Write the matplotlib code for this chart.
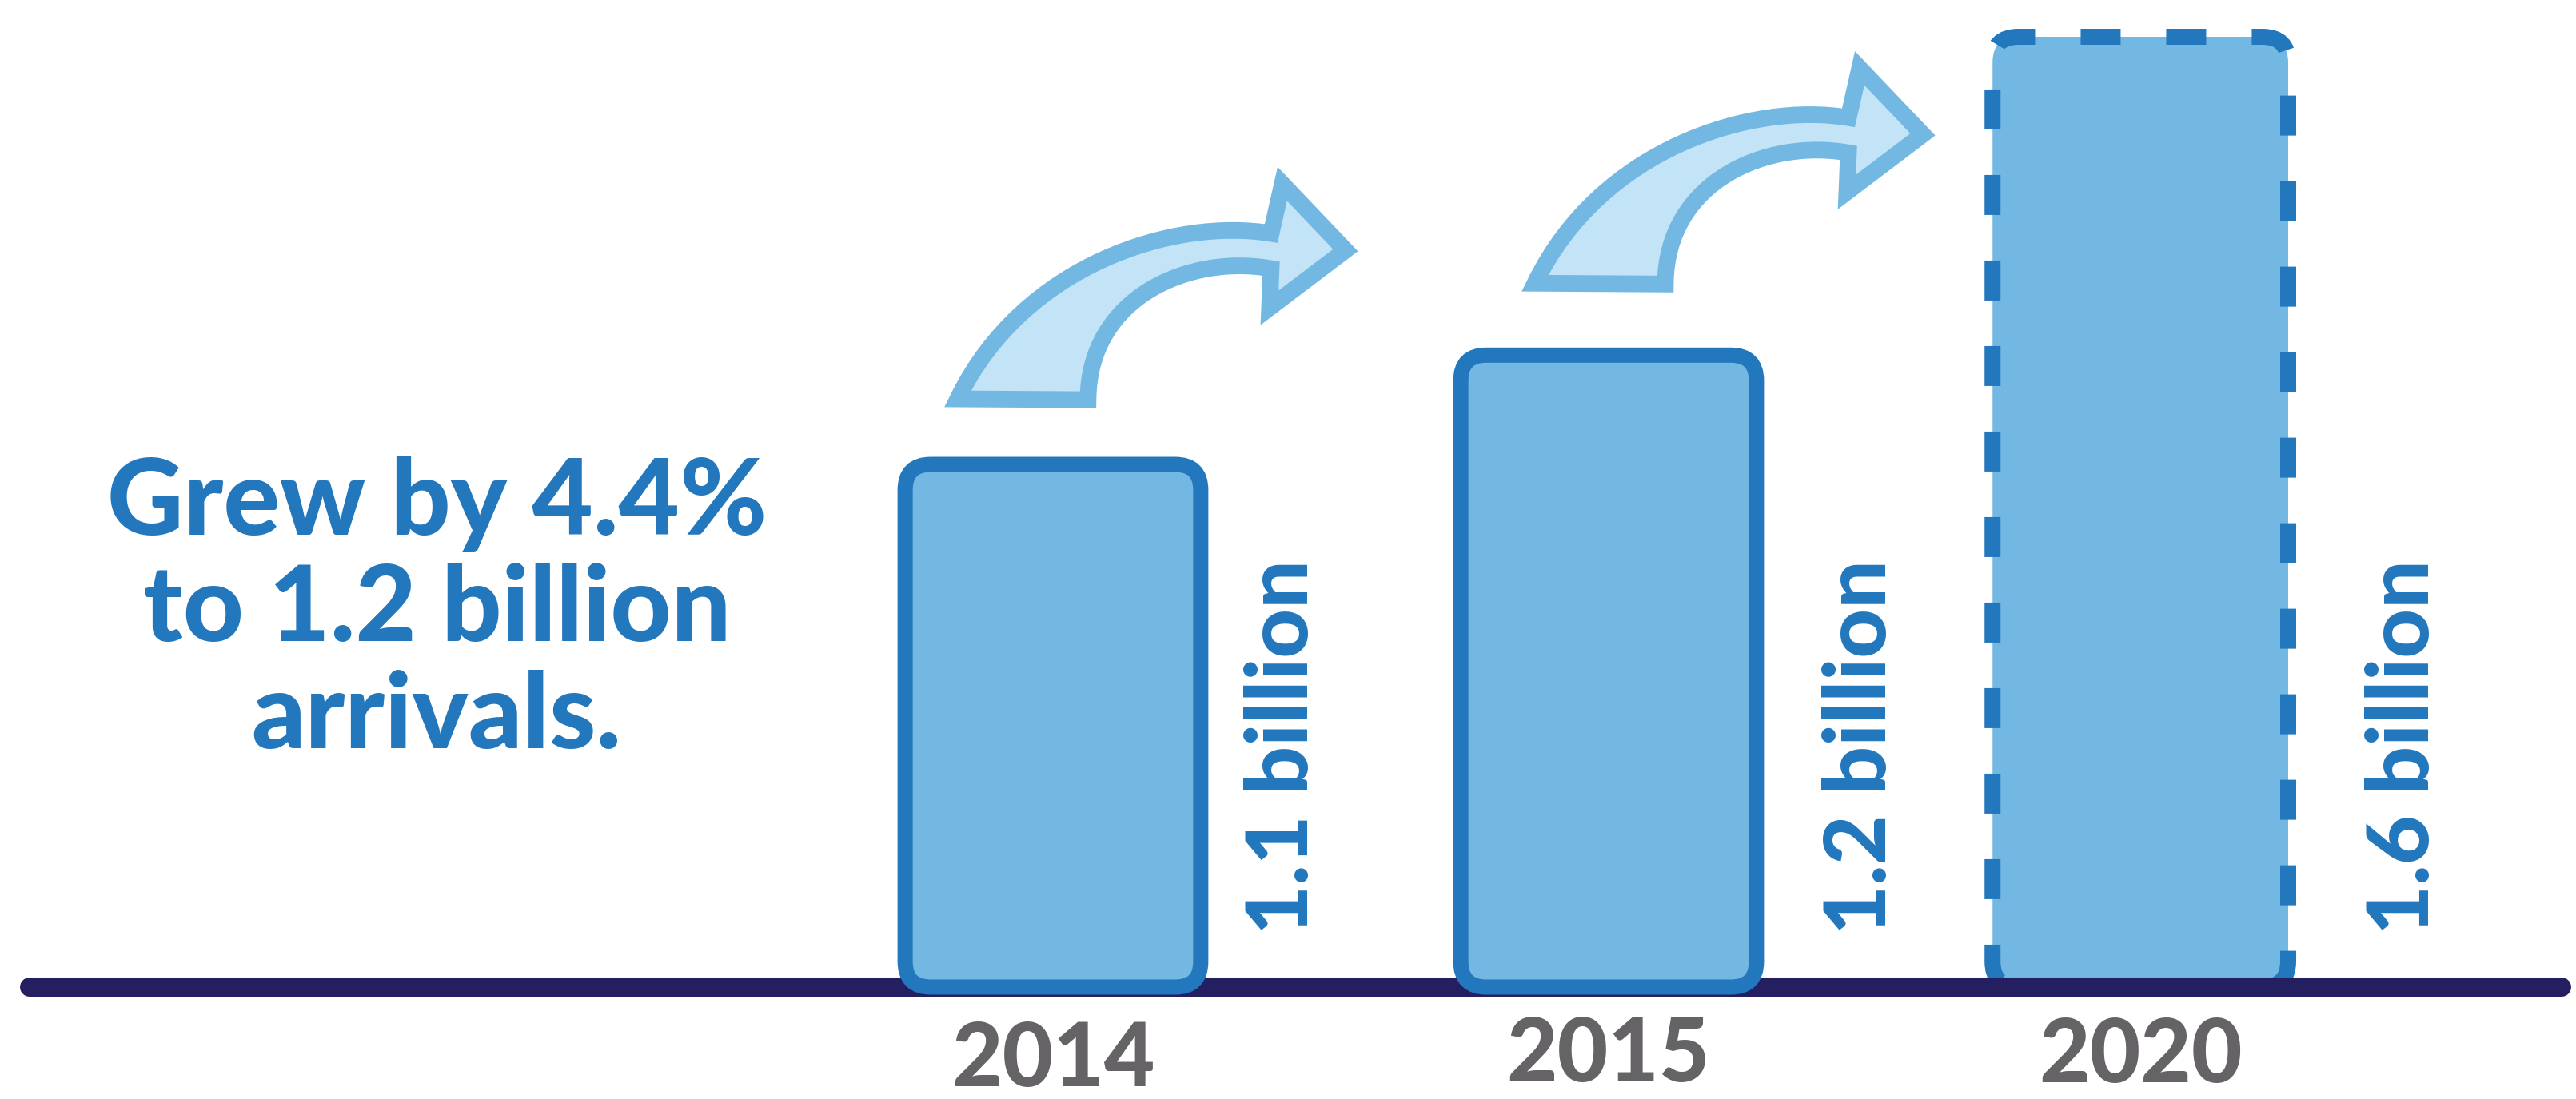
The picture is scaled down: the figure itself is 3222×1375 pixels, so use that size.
import matplotlib.pyplot as plt
import numpy as np
from matplotlib.patches import FancyBboxPatch, PathPatch
from matplotlib.path import Path

# data
years = ['2014', '2015', '2020']
arrivals = [1.1, 1.2, 1.6]            # billion, as printed next to the bars
drawn_height = [1.10, 1.33, 2.00]     # bar heights as drawn (the graphic is not to scale)
headline = ['Grew by 4.4%', 'to 1.2 billion', 'arrivals.']

BAR_FILL = '#73b8e2'
BAR_EDGE = '#2277bd'
ARROW_FILL = '#c2e4f6'
BASE_COL = '#241f60'
YEAR_COL = '#656366'

plt.rcParams['font.family'] = ['Lato', 'DejaVu Sans']

# one x unit = distance between the 2014 and 2015 bars, one y unit = one drawn billion
px_x, px_y = 695.0, 594.5
xpos = np.array([0.0, 1.0, 1.957])
bar_w = 0.532

fig = plt.figure(figsize=(32.22, 13.75), dpi=100)
ax = fig.add_axes([0, 0, 1, 1])
ax.set_xlim(-1317 / px_x, (3222 - 1317) / px_x)
ax.set_ylim(-140 / px_y, 1235 / px_y)
ax.axis('off')

# ground line
ax.axhline(0, xmin=0.0115, xmax=0.9944, color=BASE_COL, lw=17.3,
           solid_capstyle='round', zorder=2)

# bars: let matplotlib place them, then swap in rounded boxes
bars = ax.bar(xpos, drawn_height, width=bar_w)
for i, rect in enumerate(bars):
    x0, y0 = rect.get_xy()
    w, h = rect.get_width(), rect.get_height()
    rect.set_visible(False)
    dashed = i == len(bars) - 1
    box = FancyBboxPatch((x0, y0), w, h,
                         boxstyle=f'round,pad=0,rounding_size={32 / px_x}',
                         mutation_aspect=px_x / px_y,
                         fc=BAR_FILL, ec=BAR_EDGE,
                         lw=14.4 if dashed else 13.7,
                         ls=(0, (2.5, 2.85)) if dashed else '-',
                         capstyle='butt', zorder=1 if dashed else 3)
    ax.add_patch(box)

# value labels, written upwards beside each bar
label_dx = [0.414, 0.455, 0.474]
for x, v, dx in zip(xpos, arrivals, label_dx):
    ax.text(x + dx, 66 / px_y, f'{v:g} billion', rotation=90, ha='center',
            va='bottom', fontsize=77, fontweight='black', color=BAR_EDGE)

# year labels under the ground line
year_y = [-0.208, -0.198, -0.200]
for x, yr, yb in zip(xpos, years, year_y):
    ax.text(x, yb, yr, ha='center', va='baseline', fontsize=79,
            fontweight='black', color=YEAR_COL)

# headline on the left
for line, yb in zip(headline, [0.952, 0.728, 0.503]):
    ax.text(-1.109, yb, line, ha='center', va='baseline', fontsize=95,
            fontweight='black', color=BAR_EDGE)

# curved growth arrows (shape in pixels, relative to the top of the bar it leaves)
arrow_pts = [(-133, 82), (30, 81), (31, 211), (159, 263), (259, 245),
             (257, 196), (352, 268), (273, 351), (259, 289),
             (139, 309), (-51, 251), (-133, 82), (-133, 82)]
arrow_codes = [Path.MOVETO, Path.LINETO, Path.CURVE4, Path.CURVE4, Path.CURVE4,
               Path.LINETO, Path.LINETO, Path.LINETO, Path.LINETO,
               Path.CURVE4, Path.CURVE4, Path.CURVE4, Path.CLOSEPOLY]
arrow_off = [(0.020, 0.0), (0.059, 0.0135)]
shape = np.array(arrow_pts, dtype=float) / [px_x, px_y]
for i, (dx, dy) in enumerate(arrow_off):
    verts = shape + [xpos[i] + dx, drawn_height[i] + dy]
    ax.add_patch(PathPatch(Path(verts, arrow_codes), fc=ARROW_FILL,
                           ec=BAR_FILL, lw=15, joinstyle='miter', zorder=4))

fig.savefig('out.png', dpi=100)
